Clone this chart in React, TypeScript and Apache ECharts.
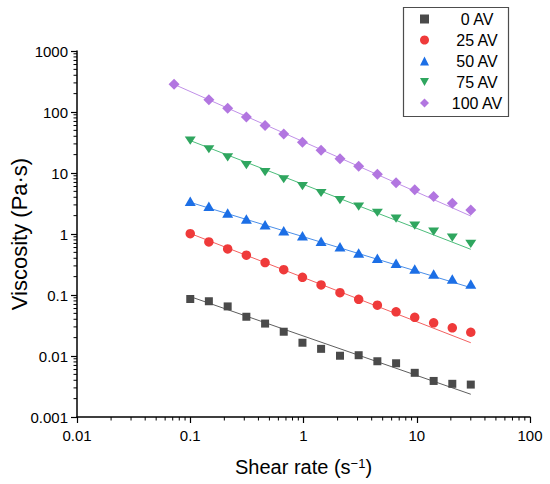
import React, { useEffect, useRef } from "react";
import * as echarts from "echarts";

// ---- data ----
const shearRate = [0.1, 0.146, 0.214, 0.313, 0.458, 0.669, 0.979, 1.43, 2.1, 3.07, 4.49, 6.57, 9.6, 14.1, 20.6, 30];
const shearRate100 = [0.072, 0.146, 0.214, 0.313, 0.458, 0.669, 0.979, 1.43, 2.1, 3.07, 4.49, 6.57, 9.6, 14.1, 20.6, 30];

const visc0 = [0.086, 0.079, 0.065, 0.044, 0.034, 0.025, 0.0165, 0.0131, 0.0101, 0.0103, 0.0082, 0.0076, 0.0053, 0.0039, 0.0035, 0.0034];
const visc25 = [1.01, 0.74, 0.57, 0.45, 0.34, 0.26, 0.195, 0.146, 0.109, 0.085, 0.068, 0.053, 0.043, 0.035, 0.029, 0.0245];
const visc50 = [3.44, 2.84, 2.21, 1.76, 1.42, 1.13, 0.94, 0.76, 0.62, 0.49, 0.4, 0.33, 0.267, 0.221, 0.183, 0.151];
const visc75 = [33.9, 24.5, 18.1, 13.5, 10.3, 7.9, 6.1, 4.7, 3.6, 2.8, 2.23, 1.78, 1.37, 1.09, 0.87, 0.69];
const visc100 = [284, 159, 115, 83, 60, 43.6, 31.9, 23.6, 17.2, 12.9, 9.5, 6.9, 5.3, 4.1, 3.2, 2.47];

// power-law fit lines (end points)
const fit0X = [0.1, 30];
const fit0Y = [0.094, 0.00236];
const fit25X = [0.1, 30];
const fit25Y = [1.02, 0.0165];
const fit50X = [0.1, 30];
const fit50Y = [3.3, 0.132];
const fit75X = [0.1, 30];
const fit75Y = [34, 0.561];
const fit100X = [0.072, 30];
const fit100Y = [284, 1.97];

const seriesNames = ["0 AV", "25 AV", "50 AV", "75 AV", "100 AV"];
const xTickLabels = ["0.01", "0.1", "1", "10", "100"];
const yTickLabels = ["0.001", "0.01", "0.1", "1", "10", "100", "1000"];
const xMinorDecades = [0.01, 0.1, 1, 10];
const yMinorDecades = [0.001, 0.01, 0.1, 1, 10, 100];
const minorMultipliers = [2, 3, 4, 5, 6, 7, 8, 9];

const FONT = "'Liberation Sans', Arial, Helvetica, sans-serif";
const DOWN_TRIANGLE = "path://M0,0L11,0L5.5,9.5Z";

const zip = (xs: number[], ys: number[]) => xs.map((x, i) => [x, ys[i]]);

export default function App() {
  const ref = useRef<HTMLDivElement>(null);

  useEffect(() => {
    if (!ref.current) return;
    const chart = echarts.init(ref.current, undefined, { renderer: "svg" });

    const xMin = 0.01;
    const yMin = 0.001;
    const xMinor: number[][] = [];
    xMinorDecades.forEach((d) => minorMultipliers.forEach((m) => xMinor.push([d * m, yMin])));
    const yMinor: number[][] = [];
    yMinorDecades.forEach((d) => minorMultipliers.forEach((m) => yMinor.push([xMin, d * m])));

    const markerDefs = [
      { name: seriesNames[0], x: shearRate, y: visc0, fx: fit0X, fy: fit0Y, color: "#4a4a4a", line: "#5e5e5e", symbol: "rect", size: 8, rotate: 0 },
      { name: seriesNames[1], x: shearRate, y: visc25, fx: fit25X, fy: fit25Y, color: "#ef3a3a", line: "#f36060", symbol: "circle", size: 9.5, rotate: 0 },
      { name: seriesNames[2], x: shearRate, y: visc50, fx: fit50X, fy: fit50Y, color: "#1c6fe6", line: "#4a8ee8", symbol: "triangle", size: [11, 9.5], rotate: 0 },
      { name: seriesNames[3], x: shearRate, y: visc75, fx: fit75X, fy: fit75Y, color: "#2fa65f", line: "#4cbd7b", symbol: DOWN_TRIANGLE, size: [11, 9.5], rotate: 0 },
      { name: seriesNames[4], x: shearRate100, y: visc100, fx: fit100X, fy: fit100Y, color: "#b276e0", line: "#c090e8", symbol: "diamond", size: 11, rotate: 0 },
    ];

    const series: any[] = [];
    markerDefs.forEach((d) => {
      series.push({
        name: d.name + " fit",
        type: "line",
        data: zip(d.fx, d.fy),
        showSymbol: false,
        symbol: "none",
        lineStyle: { color: d.line, width: 1 },
        silent: true,
        z: 2,
      });
    });
    markerDefs.forEach((d) => {
      series.push({
        name: d.name,
        type: "scatter",
        data: zip(d.x, d.y),
        symbol: d.symbol,
        symbolSize: d.size,
        symbolRotate: d.rotate,
        symbolKeepAspect: true,
        itemStyle: { color: d.color, opacity: 1 },
        z: 3,
      });
    });

    series.push({
      name: "xMinorTicks",
      type: "custom",
      data: xMinor,
      silent: true,
      clip: false,
      z: 5,
      renderItem: (params: any, api: any) => {
        const p = api.coord([api.value(0), api.value(1)]);
        return {
          type: "line",
          shape: { x1: p[0], y1: p[1], x2: p[0], y2: p[1] + 3.5 },
          style: { stroke: "#000", lineWidth: 1 },
        };
      },
    });
    series.push({
      name: "yMinorTicks",
      type: "custom",
      data: yMinor,
      silent: true,
      clip: false,
      z: 5,
      renderItem: (params: any, api: any) => {
        const p = api.coord([api.value(0), api.value(1)]);
        return {
          type: "line",
          shape: { x1: p[0], y1: p[1], x2: p[0] - 3.5, y2: p[1] },
          style: { stroke: "#000", lineWidth: 1 },
        };
      },
    });

    chart.setOption({
      animation: false,
      backgroundColor: "#fff",
      textStyle: { fontFamily: FONT },
      grid: { left: 73, right: 20, top: 51, bottom: 67 },
      xAxis: {
        type: "log",
        logBase: 10,
        min: 0.01,
        max: 100,
        name: "{a|Shear rate (s}{b|−1}{a|)}",
        nameLocation: "middle",
        nameGap: 40,
        nameMoveOverlap: false,
        nameTextStyle: {
          color: "#000",
          fontFamily: FONT,
          rich: {
            a: { fontSize: 20, fontFamily: FONT, color: "#000" },
            b: { fontSize: 13, fontFamily: FONT, color: "#000", verticalAlign: "top" },
          },
        },
        axisLine: { show: true, onZero: false, lineStyle: { color: "#000", width: 1.5 } },
        axisTick: { show: true, inside: false, length: 6, lineStyle: { color: "#000", width: 1.2 } },
        minorTick: { show: false },
        splitLine: { show: false },
        axisLabel: {
          color: "#000",
          fontSize: 15,
          fontFamily: FONT,
          margin: 11,
          formatter: (v: number) => xTickLabels[Math.round(Math.log10(v)) + 2] ?? "",
        },
      },
      yAxis: {
        type: "log",
        logBase: 10,
        min: 0.001,
        max: 1000,
        name: "Viscosity (Pa·s)",
        nameLocation: "middle",
        nameGap: 47,
        nameMoveOverlap: false,
        nameTextStyle: { color: "#000", fontSize: 22, fontFamily: FONT },
        axisLine: { show: true, onZero: false, lineStyle: { color: "#000", width: 1.5 } },
        axisTick: { show: true, inside: false, length: 6, lineStyle: { color: "#000", width: 1.2 } },
        minorTick: { show: false },
        splitLine: { show: false },
        axisLabel: {
          color: "#000",
          fontSize: 15,
          fontFamily: FONT,
          margin: 9,
          formatter: (v: number) => yTickLabels[Math.round(Math.log10(v)) + 3] ?? "",
        },
      },
      legend: {
        data: seriesNames.map((n, i) => (i === 3 ? { name: n, icon: DOWN_TRIANGLE } : { name: n })),
        orient: "vertical",
        left: 420,
        top: 11,
        padding: 0,
        itemWidth: 9,
        itemHeight: 9,
        itemGap: 5,
        selectedMode: false,
        formatter: (name: string) => `{t|${name}}`,
        textStyle: {
          rich: {
            t: { width: 86, align: "center", fontSize: 16, lineHeight: 16, fontFamily: FONT, color: "#000" },
          },
        },
      },
      graphic: [
        {
          type: "rect",
          shape: { x: 403.5, y: 7.5, width: 105, height: 109 },
          style: { fill: "none", stroke: "#4d4d4d", lineWidth: 1.2 },
          silent: true,
        },
      ],
      series,
    });

    return () => chart.dispose();
  }, []);

  return (
    <div
      ref={ref}
      style={{ position: "absolute", left: 0, top: 0, width: 550, height: 484 }}
    />
  );
}
